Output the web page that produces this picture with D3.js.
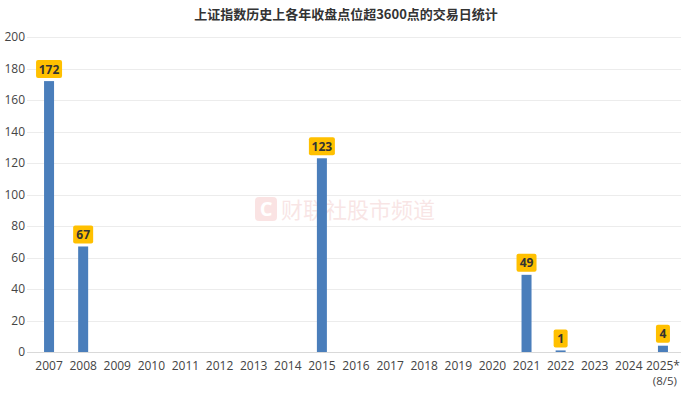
<!DOCTYPE html>
<html>
<head>
<meta charset="utf-8">
<script src="https://cdn.jsdelivr.net/npm/d3@7"></script>
<style>
  body { margin: 0; background: #fff; }
  text { font-family: "Open Sans", "Noto Sans CJK SC", sans-serif; }
</style>
</head>
<body>
<div id="chart"></div>
<script>
// data
var years = ["2007","2008","2009","2010","2011","2012","2013","2014","2015","2016",
             "2017","2018","2019","2020","2021","2022","2023","2024","2025*"];
var days = [172, 67, 0, 0, 0, 0, 0, 0, 123, 0, 0, 0, 0, 0, 49, 1, 0, 0, 4];
var yTicks = [0, 20, 40, 60, 80, 100, 120, 140, 160, 180, 200];
var title = "上证指数历史上各年收盘点位超3600点的交易日统计";
var lastNote = "(8/5)";

var W = 692, H = 393;
var svg = d3.select("#chart").append("svg")
    .attr("width", W).attr("height", H);

var x = d3.scaleBand().domain(years).range([32, 680]);
var y = d3.scaleLinear().domain([0, 200]).range([352, 37]);

// title
svg.append("text")
    .attr("x", 346).attr("y", 19)
    .attr("text-anchor", "middle")
    .attr("font-size", 13).attr("font-weight", "bold")
    .attr("fill", "#333")
    .style("font-family", "'Noto Sans CJK SC', sans-serif")
    .text(title);

// grid
svg.append("g").selectAll("line")
    .data(yTicks).enter().append("line")
    .attr("x1", 27).attr("x2", 681)
    .attr("y1", function (d) { return Math.round(y(d)) + 0.5; })
    .attr("y2", function (d) { return Math.round(y(d)) + 0.5; })
    .attr("stroke", function (d) { return d === 0 ? "#d9d9d9" : "#ececec"; });

// y labels
svg.append("g").selectAll("text")
    .data(yTicks).enter().append("text")
    .attr("x", 25).attr("y", function (d) { return y(d) + 4; })
    .attr("text-anchor", "end")
    .attr("font-size", 12).attr("fill", "#444")
    .text(function (d) { return d; });

// watermark
var wm = svg.append("g").attr("opacity", 0.13);
wm.append("rect").attr("x", 255).attr("y", 197).attr("width", 22).attr("height", 24)
    .attr("rx", 4).attr("fill", "#e03030");
wm.append("text").attr("x", 266).attr("y", 216).attr("text-anchor", "middle")
    .attr("font-size", 20).attr("font-weight", "bold").attr("fill", "#fff").text("C");
wm.append("text").attr("x", 281).attr("y", 218)
    .attr("font-size", 22).attr("fill", "#d04040")
    .style("font-family", "'Noto Sans CJK SC', sans-serif")
    .text("财联社股市频道");

// bars
var bw = 10;
svg.append("g").selectAll("rect")
    .data(years).enter().append("rect")
    .attr("x", function (d) { return x(d) + x.bandwidth() / 2 - bw / 2; })
    .attr("width", bw)
    .attr("y", function (d, i) { return y(days[i]); })
    .attr("height", function (d, i) { return y(0) - y(days[i]); })
    .attr("fill", "#4a7ebb");

// value labels
var labels = svg.append("g").selectAll("g")
    .data(years.filter(function (d, i) { return days[i] > 0; }))
    .enter().append("g")
    .attr("transform", function (d) {
        var v = days[years.indexOf(d)];
        return "translate(" + (x(d) + x.bandwidth() / 2) + "," + (y(v) - 12) + ")";
    });
labels.append("rect")
    .attr("x", function (d) { var n = String(days[years.indexOf(d)]).length; return n > 2 ? -13 : (n > 1 ? -10 : -7); })
    .attr("width", function (d) { var n = String(days[years.indexOf(d)]).length; return n > 2 ? 26 : (n > 1 ? 20 : 14); })
    .attr("y", -9).attr("height", 18)
    .attr("rx", 2)
    .attr("fill", "#ffc000");
labels.append("text")
    .attr("text-anchor", "middle").attr("y", 4.5)
    .attr("font-size", 12).attr("font-weight", "bold").attr("fill", "#333")
    .text(function (d) { return days[years.indexOf(d)]; });

// x labels
svg.append("g").selectAll("text")
    .data(years).enter().append("text")
    .attr("x", function (d) { return x(d) + x.bandwidth() / 2; })
    .attr("y", 370)
    .attr("text-anchor", "middle")
    .attr("font-size", 12).attr("fill", "#444")
    .text(function (d) { return d; });
svg.append("text")
    .attr("x", x("2025*") + x.bandwidth() / 2 + 2).attr("y", 385)
    .attr("text-anchor", "middle")
    .attr("font-size", 11.5).attr("fill", "#444")
    .text(lastNote);
</script>
</body>
</html>
